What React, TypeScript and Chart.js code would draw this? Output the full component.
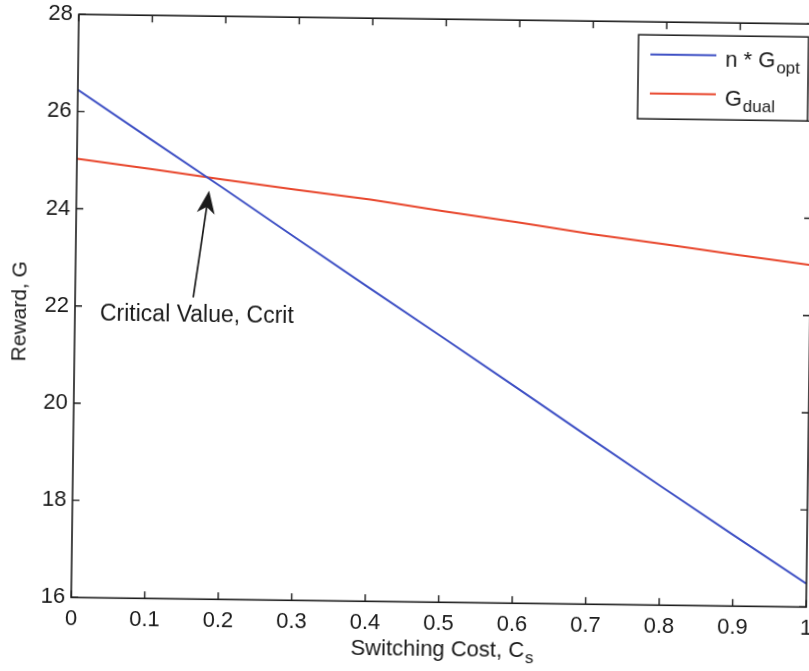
import React, { useEffect, useRef } from 'react';
import { Chart, registerables } from 'chart.js';

Chart.register(...registerables);

// ---- data ----
const switchingCost = [0, 0.1, 0.2, 0.3, 0.4, 0.5, 0.6, 0.7, 0.8, 0.9, 1.0];
const nGopt = [26.45, 25.45, 24.46, 23.45, 22.45, 21.46, 20.46, 19.45, 18.45, 17.46, 16.48];
const gDual = [25.03, 24.84, 24.64, 24.45, 24.27, 24.05, 23.84, 23.62, 23.43, 23.23, 23.04];

const xTickValues = [0, 0.1, 0.2, 0.3, 0.4, 0.5, 0.6, 0.7, 0.8, 0.9, 1];
const xTickLabels = ['0', '0.1', '0.2', '0.3', '0.4', '0.5', '0.6', '0.7', '0.8', '0.9', '1'];
const yTickValues = [16, 18, 20, 22, 24, 26, 28];
const yTickLabels = ['16', '18', '20', '22', '24', '26', '28'];

const seriesMain = ['n * G', 'G'];
const seriesSub = ['opt', 'dual'];
const seriesColors = ['#3d4fc4', '#e8462c'];

const xTitleMain = 'Switching Cost, C';
const xTitleSub = 's';
const yTitle = 'Reward, G';

const annotationText = 'Critical Value, Ccrit';
const annotationAnchor = { x: 0.034, y: 21.71 };
const arrowTail = { x: 0.1607, y: 22.21 };
const arrowTip = { x: 0.1804, y: 24.41 };

const FONT = '"Liberation Sans", Arial, Helvetica, sans-serif';

const overlayPlugin = {
  id: 'overlay',
  afterDraw(chart: any) {
    const { ctx, chartArea: a, scales } = chart;
    const xs = scales.x;
    const ys = scales.y;
    ctx.save();

    // frame
    ctx.strokeStyle = '#1c1c1c';
    ctx.lineWidth = 1.6;
    ctx.strokeRect(a.left, a.top, a.right - a.left, a.bottom - a.top);

    // inward ticks
    const tl = 7;
    ctx.lineWidth = 1.4;
    ctx.beginPath();
    xTickValues.forEach((v) => {
      const px = xs.getPixelForValue(v);
      ctx.moveTo(px, a.bottom);
      ctx.lineTo(px, a.bottom - tl);
      ctx.moveTo(px, a.top);
      ctx.lineTo(px, a.top + tl);
    });
    yTickValues.forEach((v) => {
      const py = ys.getPixelForValue(v);
      ctx.moveTo(a.left, py);
      ctx.lineTo(a.left + tl, py);
      ctx.moveTo(a.right, py);
      ctx.lineTo(a.right - tl, py);
    });
    ctx.stroke();

    ctx.fillStyle = '#1a1a1a';

    // annotation text
    ctx.font = `23px ${FONT}`;
    ctx.textAlign = 'left';
    ctx.textBaseline = 'alphabetic';
    ctx.fillText(annotationText, xs.getPixelForValue(annotationAnchor.x), ys.getPixelForValue(annotationAnchor.y));

    // arrow
    const tx = xs.getPixelForValue(arrowTail.x);
    const ty = ys.getPixelForValue(arrowTail.y);
    const hx = xs.getPixelForValue(arrowTip.x);
    const hy = ys.getPixelForValue(arrowTip.y);
    const ang = Math.atan2(hy - ty, hx - tx);
    const headLen = 23;
    const headHalf = 9;
    const ux = Math.cos(ang), uy = Math.sin(ang);
    const nx = -uy, ny = ux;
    const bx = hx - ux * headLen, by = hy - uy * headLen;
    ctx.strokeStyle = '#1a1a1a';
    ctx.lineWidth = 1.7;
    ctx.beginPath();
    ctx.moveTo(tx, ty);
    ctx.lineTo(hx - ux * 14, hy - uy * 14);
    ctx.stroke();
    ctx.beginPath();
    ctx.moveTo(hx, hy);
    ctx.lineTo(bx + nx * headHalf, by + ny * headHalf);
    ctx.lineTo(hx - ux * (headLen * 0.72), hy - uy * (headLen * 0.72));
    ctx.lineTo(bx - nx * headHalf, by - ny * headHalf);
    ctx.closePath();
    ctx.fill();

    // legend
    const lx0 = a.left + 560;
    const ly0 = a.top + 13;
    const lx1 = a.right - 5;
    const ly1 = a.top + 97;
    ctx.fillStyle = '#ffffff';
    ctx.fillRect(lx0, ly0, lx1 - lx0, ly1 - ly0);
    ctx.strokeStyle = '#1c1c1c';
    ctx.lineWidth = 1.5;
    ctx.strokeRect(lx0, ly0, lx1 - lx0, ly1 - ly0);
    for (let i = 0; i < seriesMain.length; i++) {
      const lineY = ly0 + 19.5 + i * 39;
      ctx.strokeStyle = seriesColors[i];
      ctx.lineWidth = 2;
      ctx.beginPath();
      ctx.moveTo(lx0 + 12, lineY);
      ctx.lineTo(lx0 + 78, lineY);
      ctx.stroke();
      ctx.fillStyle = '#1a1a1a';
      ctx.font = `22px ${FONT}`;
      ctx.textAlign = 'left';
      ctx.textBaseline = 'alphabetic';
      const textX = lx0 + 87;
      const baseY = lineY + 11;
      ctx.fillText(seriesMain[i], textX, baseY);
      const w = ctx.measureText(seriesMain[i]).width;
      ctx.font = `17px ${FONT}`;
      ctx.fillText(seriesSub[i], textX + w + 1, baseY + 6);
    }

    // x title with subscript
    ctx.fillStyle = '#1a1a1a';
    ctx.font = `22px ${FONT}`;
    const wMain = ctx.measureText(xTitleMain).width;
    ctx.font = `17px ${FONT}`;
    const wSub = ctx.measureText(xTitleSub).width;
    const totalW = wMain + wSub + 1;
    const cx = (a.left + a.right) / 2 + 4;
    const startX = cx - totalW / 2;
    const titleBase = a.bottom + 54;
    ctx.textAlign = 'left';
    ctx.font = `22px ${FONT}`;
    ctx.fillText(xTitleMain, startX, titleBase);
    ctx.font = `17px ${FONT}`;
    ctx.fillText(xTitleSub, startX + wMain + 1, titleBase + 6);

    // y title
    ctx.save();
    ctx.translate(20, (a.top + a.bottom) / 2 + 6);
    ctx.rotate(-Math.PI / 2);
    ctx.font = `21px ${FONT}`;
    ctx.textAlign = 'center';
    ctx.textBaseline = 'middle';
    ctx.fillText(yTitle, 0, 0);
    ctx.restore();

    ctx.restore();
  },
};

export default function App() {
  const canvasRef = useRef<HTMLCanvasElement | null>(null);

  useEffect(() => {
    if (!canvasRef.current) return;
    const chart = new Chart(canvasRef.current, {
      type: 'line',
      data: {
        datasets: [
          {
            label: seriesMain[0] + seriesSub[0],
            data: switchingCost.map((x, i) => ({ x, y: nGopt[i] })),
            borderColor: seriesColors[0],
            borderWidth: 2,
            pointRadius: 0,
            tension: 0,
            fill: false,
          },
          {
            label: seriesMain[1] + seriesSub[1],
            data: switchingCost.map((x, i) => ({ x, y: gDual[i] })),
            borderColor: seriesColors[1],
            borderWidth: 2,
            pointRadius: 0,
            tension: 0,
            fill: false,
          },
        ],
      },
      options: {
        animation: false,
        responsive: false,
        layout: { padding: { left: 0, top: 17.7, right: 50, bottom: 0 } },
        plugins: {
          legend: { display: false },
          tooltip: { enabled: false },
          title: { display: false },
        },
        scales: {
          x: {
            type: 'linear',
            min: 0,
            max: 1,
            afterBuildTicks: (scale: any) => {
              scale.ticks = xTickValues.map((v) => ({ value: v }));
            },
            afterFit: (scale: any) => {
              scale.height = 97.7;
            },
            grid: { display: false, drawTicks: false, tickLength: 0 },
            border: { display: false },
            ticks: {
              autoSkip: false,
              maxRotation: 0,
              padding: 8,
              color: '#1a1a1a',
              font: { family: FONT, size: 22 },
              callback: (_v: any, i: number) => xTickLabels[i],
            },
          },
          y: {
            type: 'linear',
            min: 16,
            max: 28,
            afterBuildTicks: (scale: any) => {
              scale.ticks = yTickValues.map((v) => ({ value: v }));
            },
            afterFit: (scale: any) => {
              scale.width = 75;
            },
            grid: { display: false, drawTicks: false, tickLength: 0 },
            border: { display: false },
            ticks: {
              padding: 6,
              color: '#1a1a1a',
              font: { family: FONT, size: 22 },
              callback: (_v: any, i: number) => yTickLabels[i],
            },
          },
        },
      },
      plugins: [overlayPlugin],
    });
    return () => chart.destroy();
  }, []);

  return (
    <div
      style={{
        position: 'fixed',
        left: 0,
        top: 0,
        width: '809px',
        height: '671px',
        overflow: 'hidden',
        background: '#ffffff',
      }}
    >
      <canvas
        ref={canvasRef}
        width={860}
        height={700}
        style={{
          position: 'absolute',
          left: 0,
          top: 0,
          width: '860px',
          height: '700px',
          transform: 'rotate(0.75deg)',
          transformOrigin: '442.5px 310px',
        }}
      />
    </div>
  );
}
